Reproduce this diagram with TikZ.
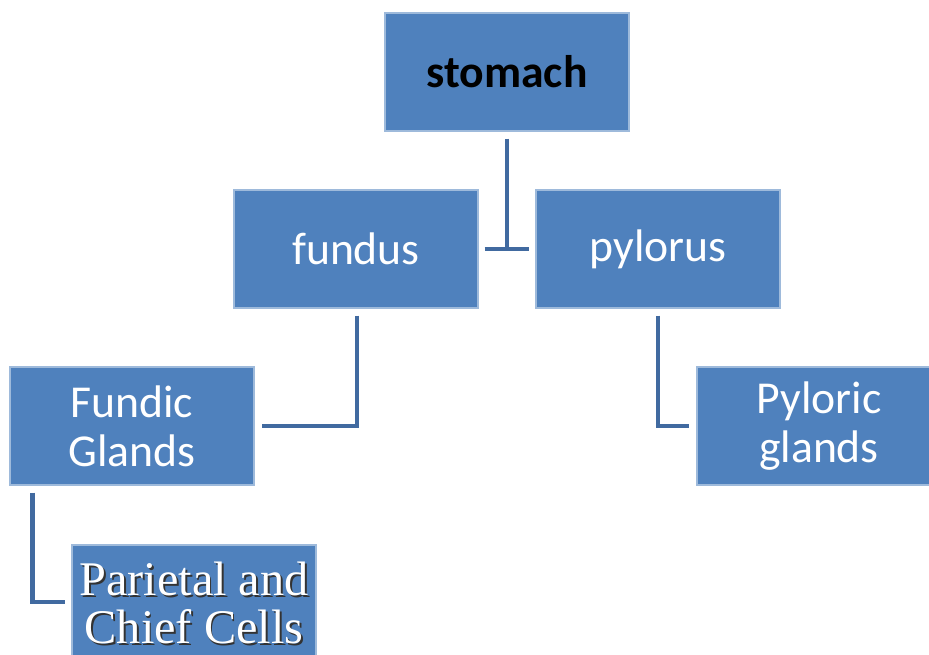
\documentclass[tikz,border=0pt]{standalone}
\usepackage{fontspec}
\setmainfont{Carlito}
\newfontfamily\cellfont{Liberation Serif}
\usetikzlibrary{calc}
\definecolor{boxblue}{RGB}{79,129,189}
\definecolor{linkblue}{RGB}{65,106,160}
\tikzset{
  box/.style={fill=boxblue, draw=white!45!boxblue, line width=0.8pt,
    minimum width=4.88cm, minimum height=2.36cm, align=center,
    text=white, font=\fontsize{26}{28}\selectfont},
  link/.style={draw=linkblue, line width=2.5pt}
}
\newcommand\shadowed[1]{\leavevmode\rlap{\kern1.1pt\raisebox{-1.1pt}{\color{black!80}#1}}#1}
\begin{document}
\begin{tikzpicture}[x=0.02cm, y=-0.02cm]
\useasboundingbox (0,0) rectangle (929,655);
\clip (0,0) rectangle (929,655);
\node[box, text=black, font=\fontsize{26}{28}\selectfont\bfseries] (stomach) at (507,72) {stomach};
\node[box] (fundus) at (356,249) {fundus};
\node[box] (pylorus) at (658,249) {pylorus};
\node[box] (fundic) at (132,426) {Fundic\\Glands};
\node[box] (pyloric) at (819,426) {Pyloric\\glands};
\node[box, font=\fontsize{27.5}{27.5}\selectfont\cellfont] (cells) at (194,604) {\shadowed{Parietal and}\\\shadowed{Chief Cells}};
% stomach to its two parts
\draw[link] ($(stomach.south)+(0,7)$) -- ($(stomach.south)+(0,118)$);
\draw[link] ($(fundus.east)+(6,0)$) -- ($(pylorus.west)+(-6,0)$);
% parts to glands
\draw[link] ($(fundus.south)+(1,7)$) |- ($(fundic.east)+(7,0)$);
\draw[link] ($(pylorus.south)+(0,7)$) |- ($(pyloric.west)+(-7,0)$);
\draw[link] ($(fundic.south west)+(23,7)$) |- ($(cells.west)+(-6,-2)$);
\end{tikzpicture}
\end{document}
